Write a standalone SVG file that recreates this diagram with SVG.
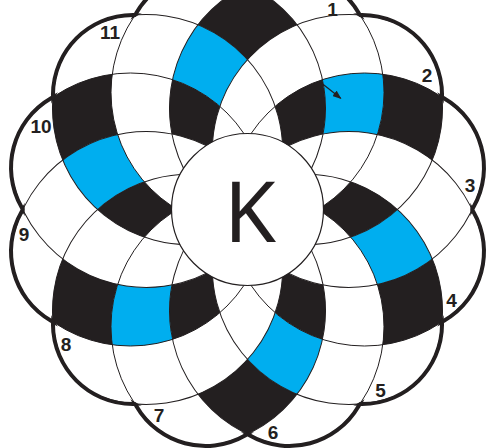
<svg xmlns="http://www.w3.org/2000/svg" width="488" height="448" viewBox="0 0 488 448">
<style>
.blk{fill:#231f20}
.blu{fill:#00aeef}
.lat{fill:none;stroke:#231f20;stroke-width:1}
.lobe{fill:none;stroke:#231f20;stroke-width:4}
.num{font-family:"Liberation Sans",Arial,sans-serif;font-weight:bold;font-size:19px;fill:#231f20;text-anchor:middle}
</style>
<defs>
<clipPath id="inside">
<circle cx="247.5" cy="209.5" r="224.6"/>
<circle cx="247.5" cy="47.5" r="80" transform="rotate(15 247.5 209.5)"/>
<circle cx="247.5" cy="47.5" r="80" transform="rotate(45 247.5 209.5)"/>
<circle cx="247.5" cy="47.5" r="80" transform="rotate(75 247.5 209.5)"/>
<circle cx="247.5" cy="47.5" r="80" transform="rotate(105 247.5 209.5)"/>
<circle cx="247.5" cy="47.5" r="80" transform="rotate(135 247.5 209.5)"/>
<circle cx="247.5" cy="47.5" r="80" transform="rotate(165 247.5 209.5)"/>
<circle cx="247.5" cy="47.5" r="80" transform="rotate(195 247.5 209.5)"/>
<circle cx="247.5" cy="47.5" r="80" transform="rotate(225 247.5 209.5)"/>
<circle cx="247.5" cy="47.5" r="80" transform="rotate(255 247.5 209.5)"/>
<circle cx="247.5" cy="47.5" r="80" transform="rotate(285 247.5 209.5)"/>
<circle cx="247.5" cy="47.5" r="80" transform="rotate(315 247.5 209.5)"/>
<circle cx="247.5" cy="47.5" r="80" transform="rotate(345 247.5 209.5)"/>
</clipPath>
<clipPath id="outside"><path clip-rule="evenodd" d="M-10,-10H500V460H-10Z M24.5,209.5a223,223 0 1,0 446,0a223,223 0 1,0 -446,0Z"/></clipPath>
<path id="cOut" d="M247.5,-15.1A136.5,136.5 0 0 1 297.01,24.72A136.5,136.5 0 0 0 247.5,59.5A136.5,136.5 0 0 0 197.99,24.72A136.5,136.5 0 0 1 247.5,-15.1Z"/>
<path id="cIn" d="M322.5,79.596A136.5,136.5 0 0 1 323.089,133.911A136.5,136.5 0 0 0 282.65,148.619A136.5,136.5 0 0 0 275.168,106.243A136.5,136.5 0 0 1 322.5,79.596Z"/>
<path id="lMid" d="M382.768,74.232A136.5,136.5 0 0 1 377.404,134.5A136.5,136.5 0 0 0 323.089,133.911A136.5,136.5 0 0 0 322.5,79.596A136.5,136.5 0 0 1 382.768,74.232Z"/>
<circle id="lat" cx="247.5" cy="92.5" r="136.5"/>
<circle id="lobeC" cx="247.5" cy="47.5" r="80"/>
<marker id="arr" markerWidth="9" markerHeight="7" refX="8" refY="3.5" orient="auto" markerUnits="userSpaceOnUse"><path d="M0,0L9,3.5L0,7Z" fill="#231f20"/></marker>
</defs>
<rect width="488" height="448" fill="#ffffff"/>
<g id="cells">
<g class="blk">
<use href="#cOut"/><use href="#cOut" transform="rotate(60 247.5 209.5)"/><use href="#cOut" transform="rotate(120 247.5 209.5)"/><use href="#cOut" transform="rotate(180 247.5 209.5)"/><use href="#cOut" transform="rotate(240 247.5 209.5)"/><use href="#cOut" transform="rotate(300 247.5 209.5)"/>
<use href="#cIn"/><use href="#cIn" transform="rotate(60 247.5 209.5)"/><use href="#cIn" transform="rotate(120 247.5 209.5)"/><use href="#cIn" transform="rotate(180 247.5 209.5)"/><use href="#cIn" transform="rotate(240 247.5 209.5)"/><use href="#cIn" transform="rotate(300 247.5 209.5)"/>
</g>
<g class="blu">
<use href="#lMid"/><use href="#lMid" transform="rotate(60 247.5 209.5)"/><use href="#lMid" transform="rotate(120 247.5 209.5)"/><use href="#lMid" transform="rotate(180 247.5 209.5)"/><use href="#lMid" transform="rotate(240 247.5 209.5)"/><use href="#lMid" transform="rotate(300 247.5 209.5)"/>
</g>
</g>
<g id="connectors">
<g id="lattice" class="lat" clip-path="url(#inside)">
<use href="#lat"/><use href="#lat" transform="rotate(30 247.5 209.5)"/><use href="#lat" transform="rotate(60 247.5 209.5)"/><use href="#lat" transform="rotate(90 247.5 209.5)"/><use href="#lat" transform="rotate(120 247.5 209.5)"/><use href="#lat" transform="rotate(150 247.5 209.5)"/><use href="#lat" transform="rotate(180 247.5 209.5)"/><use href="#lat" transform="rotate(210 247.5 209.5)"/><use href="#lat" transform="rotate(240 247.5 209.5)"/><use href="#lat" transform="rotate(270 247.5 209.5)"/><use href="#lat" transform="rotate(300 247.5 209.5)"/><use href="#lat" transform="rotate(330 247.5 209.5)"/>
</g>
<g id="outline" class="lobe" clip-path="url(#outside)">
<use href="#lobeC" transform="rotate(15 247.5 209.5)"/><use href="#lobeC" transform="rotate(45 247.5 209.5)"/><use href="#lobeC" transform="rotate(75 247.5 209.5)"/><use href="#lobeC" transform="rotate(105 247.5 209.5)"/><use href="#lobeC" transform="rotate(135 247.5 209.5)"/><use href="#lobeC" transform="rotate(165 247.5 209.5)"/><use href="#lobeC" transform="rotate(195 247.5 209.5)"/><use href="#lobeC" transform="rotate(225 247.5 209.5)"/><use href="#lobeC" transform="rotate(255 247.5 209.5)"/><use href="#lobeC" transform="rotate(285 247.5 209.5)"/><use href="#lobeC" transform="rotate(315 247.5 209.5)"/><use href="#lobeC" transform="rotate(345 247.5 209.5)"/>
</g>
<line id="pointer" x1="321.7" y1="83.3" x2="340.7" y2="98.3" stroke="#231f20" stroke-width="1.2" marker-end="url(#arr)"/>
</g>
<g id="center">
<circle cx="247.5" cy="209.5" r="76" fill="#ffffff" stroke="#231f20" stroke-width="1.2"/>
<text x="250" y="241.7" font-family="'Noto Sans',sans-serif" font-size="84" fill="#231f20" text-anchor="middle">K</text>
</g>
<g id="labels" class="num">
<text x="332.5" y="15.5">1</text>
<text x="427" y="82">2</text>
<text x="470" y="192">3</text>
<text x="451.5" y="307">4</text>
<text x="380.5" y="397">5</text>
<text x="273" y="439">6</text>
<text x="159" y="422">7</text>
<text x="66" y="351">8</text>
<text x="24" y="241">9</text>
<text x="41" y="133">10</text>
<text x="110" y="39">11</text>
</g>
</svg>
